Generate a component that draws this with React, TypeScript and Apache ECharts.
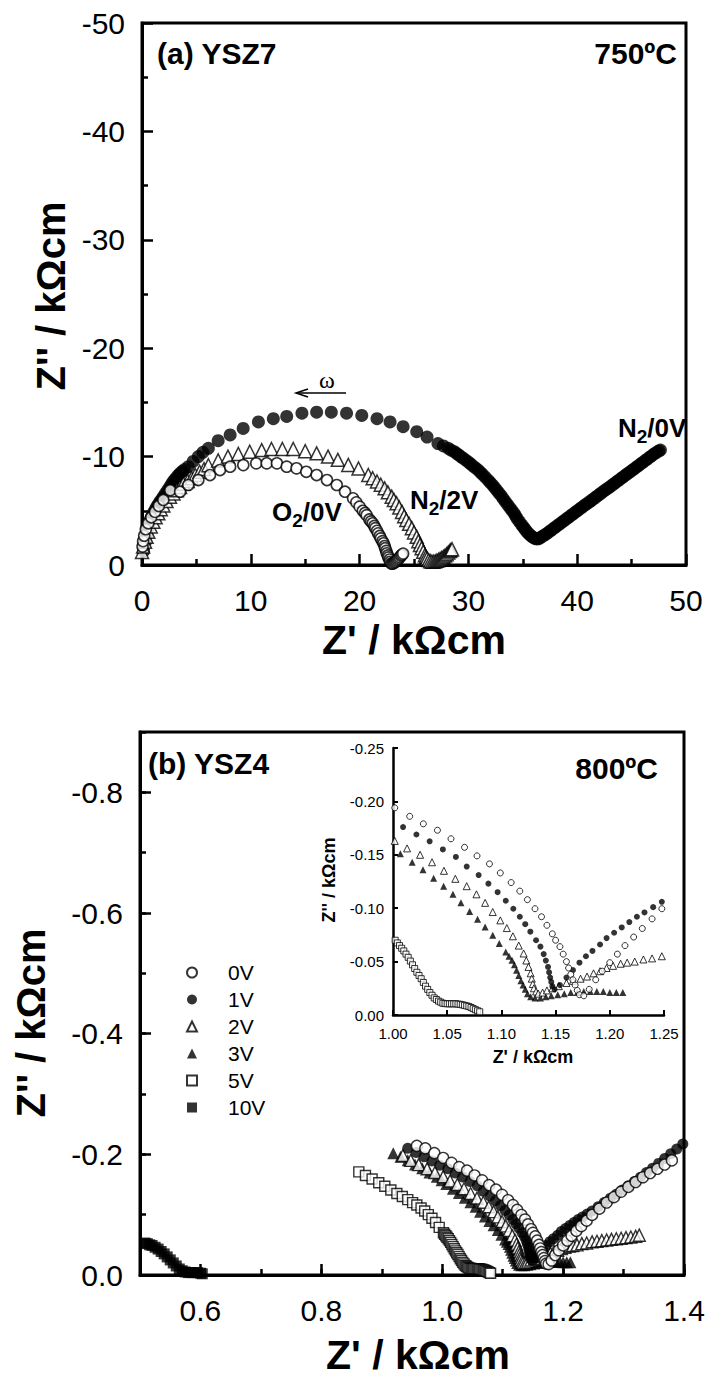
import React, { useEffect, useRef } from "react";
import * as echarts from "echarts";

// ---------- Panel (a): YSZ7 at 750 ºC  —  [Z' (kΩcm), Z'' (kΩcm)] ----------
const aN2_0V: number[][] = [
  [0.15, -1.3], [0.3, -2.1], [0.45, -2.8], [0.6, -3.5], [0.74, -4.15], [0.9, -4.5], [1.05, -4.8],
  [1.2, -5.1], [1.35, -5.38], [1.5, -5.6], [1.65, -5.85], [1.8, -6.05], [1.96, -6.3], [2.15, -6.6],
  [2.35, -6.9], [2.55, -7.2], [2.73, -7.5], [2.9, -7.75], [3.1, -8.0], [3.3, -8.25], [3.5, -8.46],
  [3.7, -8.63], [3.9, -8.8], [4.26, -9.07], [4.7, -9.55], [5.18, -10.0], [5.6, -10.4], [6.1, -10.76],
  [7.0, -11.47], [8.1, -12.0], [9.3, -12.6], [10.7, -13.2], [12.07, -13.5], [13.3, -13.7], [14.7, -14.0],
  [16.05, -14.1], [17.4, -14.1], [18.8, -14.0], [20.2, -13.8], [21.6, -13.5], [22.8, -13.2], [24.0, -12.76],
  [25.25, -12.3], [26.2, -11.8], [27.2, -11.2], [27.7, -10.98], [28.15, -10.76], [28.4, -10.6],
  [28.7, -10.45], [28.9, -10.3], [29.1, -10.15], [29.3, -10.0], [29.5, -9.85], [29.75, -9.68],
  [30.0, -9.5], [30.2, -9.32], [30.4, -9.15], [30.65, -8.95], [30.9, -8.76], [31.1, -8.55],
  [31.3, -8.35], [31.55, -8.1], [31.8, -7.84], [32.0, -7.62], [32.2, -7.4], [32.4, -7.15],
  [32.6, -6.9], [32.8, -6.65], [33.0, -6.4], [33.2, -6.12], [33.4, -5.84], [33.6, -5.57],
  [33.8, -5.3], [34.0, -5.03], [34.2, -4.77], [34.35, -4.5], [34.5, -4.25], [34.7, -3.97],
  [34.9, -3.7], [35.05, -3.5], [35.2, -3.3], [35.35, -3.1], [35.5, -2.92], [35.65, -2.78],
  [35.8, -2.65], [35.95, -2.55], [36.1, -2.46], [36.25, -2.42], [36.4, -2.42], [36.55, -2.48],
  [36.7, -2.58], [36.9, -2.7], [37.1, -2.83], [37.3, -2.97], [37.5, -3.12], [37.7, -3.27],
  [37.9, -3.42], [38.1, -3.57], [38.3, -3.72], [38.5, -3.87], [38.7, -4.02], [38.9, -4.17],
  [39.1, -4.32], [39.3, -4.47], [39.5, -4.62], [39.7, -4.77], [39.9, -4.92], [40.1, -5.07],
  [40.3, -5.22], [40.5, -5.37], [40.7, -5.52], [40.9, -5.66], [41.1, -5.8], [41.3, -5.95],
  [41.5, -6.1], [41.7, -6.25], [41.9, -6.4], [42.1, -6.55], [42.3, -6.7], [42.5, -6.85],
  [42.7, -6.99], [42.9, -7.13], [43.1, -7.28], [43.3, -7.43], [43.5, -7.58], [43.7, -7.73],
  [43.9, -7.88], [44.1, -8.03], [44.3, -8.18], [44.5, -8.33], [44.7, -8.48], [44.9, -8.62],
  [45.1, -8.77], [45.3, -8.92], [45.5, -9.07], [45.7, -9.22], [45.9, -9.37], [46.1, -9.52],
  [46.3, -9.67], [46.5, -9.82], [46.7, -9.97], [46.9, -10.12], [47.1, -10.27], [47.3, -10.4],
  [47.5, -10.52], [47.65, -10.6],
];
const aN2_2V: number[][] = [
  [0.0, -1.2], [0.1, -1.7], [0.28, -2.15], [0.42, -2.6], [0.58, -3.07], [0.8, -3.55], [1.04, -4.0],
  [1.25, -4.4], [1.5, -4.77], [1.72, -5.15], [1.96, -5.5], [2.25, -5.9], [2.57, -6.3], [2.9, -6.6],
  [3.2, -6.9], [3.5, -7.2], [3.8, -7.5], [4.2, -7.75], [4.56, -8.0], [4.9, -8.3], [5.3, -8.6],
  [5.7, -8.85], [6.1, -9.2], [7.0, -9.65], [7.9, -10.0], [8.85, -10.25], [9.9, -10.45], [11.0, -10.6],
  [11.9, -10.7], [12.9, -10.7], [13.9, -10.7], [15.0, -10.5], [16.05, -10.3], [17.1, -10.0], [18.0, -9.7],
  [18.96, -9.23], [19.9, -8.9], [20.8, -8.3], [21.2, -8.0], [21.6, -7.7], [21.95, -7.4], [22.3, -7.07],
  [22.6, -6.7], [22.95, -6.3], [23.15, -6.0], [23.4, -5.7], [23.65, -5.3], [23.9, -4.9], [24.1, -4.5],
  [24.3, -4.15], [24.55, -3.8], [24.8, -3.4], [25.0, -3.0], [25.25, -2.6], [25.4, -2.2], [25.55, -1.85],
  [25.7, -1.55], [25.85, -1.23], [26.0, -0.9], [26.1, -0.75], [26.2, -0.6], [26.35, -0.45], [26.5, -0.35],
  [26.65, -0.3], [26.8, -0.3], [26.95, -0.34], [27.1, -0.4], [27.25, -0.47], [27.4, -0.55], [27.55, -0.65],
  [27.7, -0.75], [27.85, -0.87], [28.0, -1.0], [28.15, -1.15], [28.3, -1.3], [28.4, -1.38], [28.5, -1.45],
];
const aO2_0V: number[][] = [
  [0.05, -1.7], [0.1, -2.2], [0.2, -2.7], [0.35, -3.3], [0.58, -3.85], [0.85, -4.4], [1.2, -4.9],
  [1.55, -5.45], [1.96, -6.0], [2.6, -6.9], [3.5, -6.76], [4.26, -7.38], [5.18, -7.84], [6.25, -8.3],
  [7.17, -8.76], [8.1, -9.07], [9.31, -9.22], [10.5, -9.38], [11.46, -9.38], [12.4, -9.38], [13.3, -9.07],
  [14.2, -8.92], [15.1, -8.6], [16.05, -8.3], [17.0, -7.84], [17.9, -7.38], [18.66, -6.76], [19.4, -6.15],
  [19.7, -5.78], [20.0, -5.38], [20.3, -5.0], [20.5, -4.8], [20.65, -4.6], [20.9, -4.2], [21.05, -4.02],
  [21.2, -3.85], [21.35, -3.6], [21.45, -3.4], [21.6, -3.15], [21.7, -2.92], [21.85, -2.68], [21.95, -2.45],
  [22.1, -2.2], [22.2, -2.0], [22.3, -1.75], [22.35, -1.55], [22.45, -1.3], [22.5, -1.08], [22.6, -0.88],
  [22.65, -0.7], [22.75, -0.5], [22.8, -0.3], [22.9, -0.15], [23.0, -0.12], [23.1, -0.15], [23.2, -0.22],
  [23.3, -0.3], [23.4, -0.4], [23.5, -0.5], [23.6, -0.6], [23.7, -0.72], [23.8, -0.85], [23.9, -0.95],
  [24.0, -1.05],
];

// ---------- Panel (b): YSZ4 at 800 ºC  —  [Z' (kΩcm), Z'' (kΩcm)] ----------
const b0V: number[][] = [
  [0.958, -0.214], [0.972, -0.21], [0.987, -0.202], [1.0016, -0.194], [1.0154, -0.186], [1.028, -0.179],
  [1.041, -0.173], [1.0535, -0.165], [1.066, -0.157], [1.0775, -0.149], [1.089, -0.1415], [1.099, -0.133],
  [1.109, -0.124], [1.117, -0.116], [1.124, -0.108], [1.131, -0.0995], [1.137, -0.092], [1.142, -0.084],
  [1.147, -0.076], [1.15, -0.07], [1.154, -0.064], [1.157, -0.057], [1.16, -0.05], [1.162, -0.044],
  [1.164, -0.038], [1.166, -0.033], [1.168, -0.028], [1.17, -0.023], [1.172, -0.019], [1.176, -0.018],
  [1.181, -0.024], [1.187, -0.033], [1.193, -0.041], [1.2, -0.049], [1.207, -0.057], [1.214, -0.065],
  [1.222, -0.073], [1.23, -0.081], [1.239, -0.09], [1.248, -0.0995], [1.26, -0.11], [1.272, -0.12],
  [1.284, -0.129], [1.296, -0.138], [1.308, -0.146], [1.32, -0.154], [1.332, -0.162], [1.344, -0.169],
  [1.356, -0.176], [1.368, -0.183], [1.38, -0.19],
];
const b1V: number[][] = [
  [0.943, -0.21], [0.957, -0.203], [0.97, -0.196], [0.983, -0.189], [0.996, -0.182], [1.0093, -0.176],
  [1.0216, -0.169], [1.0338, -0.1626], [1.046, -0.155], [1.058, -0.148], [1.068, -0.139], [1.079, -0.131],
  [1.088, -0.123], [1.0965, -0.115], [1.104, -0.107], [1.111, -0.0995], [1.117, -0.092], [1.122, -0.085],
  [1.1267, -0.078], [1.132, -0.07], [1.136, -0.064], [1.139, -0.057], [1.141, -0.051], [1.143, -0.045],
  [1.144, -0.04], [1.145, -0.035], [1.146, -0.031], [1.147, -0.027], [1.149, -0.024], [1.154, -0.028],
  [1.16, -0.035], [1.166, -0.042], [1.172, -0.049], [1.178, -0.055], [1.184, -0.06], [1.191, -0.066],
  [1.197, -0.072], [1.204, -0.077], [1.211, -0.082], [1.218, -0.087], [1.225, -0.092], [1.232, -0.096],
  [1.24, -0.101], [1.248, -0.106], [1.258, -0.113], [1.268, -0.12], [1.278, -0.127], [1.288, -0.134],
  [1.298, -0.141], [1.308, -0.148], [1.318, -0.155], [1.328, -0.162], [1.338, -0.17], [1.348, -0.177],
  [1.358, -0.185], [1.368, -0.193], [1.378, -0.201], [1.388, -0.209], [1.398, -0.217],
];
const b2V: number[][] = [
  [0.935, -0.198], [0.948, -0.19], [0.961, -0.183], [0.975, -0.176], [0.988, -0.17], [1.0016, -0.163],
  [1.013, -0.156], [1.025, -0.15], [1.036, -0.143], [1.047, -0.135], [1.0575, -0.1275], [1.068, -0.1206],
  [1.077, -0.113], [1.085, -0.105], [1.092, -0.0964], [1.099, -0.0886], [1.105, -0.0814], [1.1106, -0.0737],
  [1.116, -0.065], [1.1205, -0.0576], [1.123, -0.051], [1.125, -0.045], [1.127, -0.039], [1.128, -0.034],
  [1.129, -0.029], [1.13, -0.025], [1.132, -0.022], [1.134, -0.02], [1.138, -0.021], [1.142, -0.023],
  [1.147, -0.025], [1.153, -0.027], [1.16, -0.03], [1.166, -0.032], [1.173, -0.034], [1.179, -0.036],
  [1.185, -0.039], [1.191, -0.041], [1.197, -0.044], [1.203, -0.046], [1.21, -0.048], [1.216, -0.049],
  [1.223, -0.05], [1.231, -0.052], [1.239, -0.053], [1.248, -0.055], [1.256, -0.056], [1.264, -0.057],
  [1.272, -0.058], [1.28, -0.059], [1.288, -0.06], [1.296, -0.061], [1.304, -0.062], [1.312, -0.063],
  [1.32, -0.064], [1.326, -0.066],
];
const b3V: number[][] = [
  [0.919, -0.202], [0.931, -0.196], [0.943, -0.19], [0.955, -0.183], [0.967, -0.177], [0.979, -0.17],
  [0.991, -0.163], [0.999, -0.157], [1.0068, -0.151], [1.0177, -0.143], [1.0277, -0.136], [1.0375, -0.128],
  [1.0467, -0.1206], [1.0553, -0.113], [1.0627, -0.105], [1.0707, -0.097], [1.078, -0.0896], [1.085, -0.0824],
  [1.092, -0.0746], [1.098, -0.0669], [1.104, -0.059], [1.107, -0.055], [1.1098, -0.0513], [1.112, -0.047],
  [1.114, -0.042], [1.116, -0.037], [1.118, -0.032], [1.12, -0.028], [1.122, -0.024], [1.124, -0.02],
  [1.127, -0.017], [1.131, -0.016], [1.136, -0.016], [1.141, -0.017], [1.146, -0.018], [1.152, -0.019],
  [1.158, -0.02], [1.164, -0.021], [1.17, -0.021], [1.176, -0.022], [1.182, -0.022], [1.188, -0.022],
  [1.194, -0.022], [1.2, -0.021], [1.206, -0.021], [1.212, -0.021],
];
const b5V: number[][] = [
  [0.862, -0.171], [0.873, -0.165], [0.884, -0.159], [0.895, -0.153], [0.905, -0.147], [0.915, -0.141],
  [0.925, -0.135], [0.934, -0.13], [0.943, -0.125], [0.951, -0.12], [0.958, -0.116], [0.965, -0.111],
  [0.971, -0.106], [0.977, -0.1], [0.983, -0.094], [0.989, -0.087], [0.995, -0.079], [1.002, -0.07],
  [1.004, -0.0675], [1.006, -0.065], [1.008, -0.0625], [1.01, -0.06], [1.012, -0.057], [1.014, -0.054],
  [1.016, -0.0505], [1.018, -0.047], [1.02, -0.0435], [1.022, -0.04], [1.024, -0.037], [1.026, -0.034],
  [1.028, -0.0305], [1.03, -0.027], [1.032, -0.024], [1.034, -0.021], [1.036, -0.0185], [1.038, -0.016],
  [1.04, -0.0145], [1.042, -0.013], [1.044, -0.012], [1.046, -0.011], [1.048, -0.0107], [1.05, -0.0105],
  [1.052, -0.0105], [1.054, -0.0105], [1.056, -0.0105], [1.058, -0.0105], [1.06, -0.0102], [1.062, -0.01],
  [1.064, -0.0095], [1.066, -0.009], [1.068, -0.0085], [1.07, -0.008], [1.072, -0.007], [1.074, -0.006],
  [1.076, -0.005], [1.078, -0.004], [1.08, -0.003],
];
const b10V: number[][] = [
  [0.508, -0.053], [0.512, -0.052], [0.516, -0.05], [0.52, -0.049], [0.525, -0.046], [0.53, -0.043],
  [0.535, -0.039], [0.54, -0.035], [0.545, -0.03], [0.55, -0.025], [0.555, -0.02], [0.56, -0.015],
  [0.565, -0.01], [0.57, -0.007], [0.575, -0.005], [0.58, -0.004], [0.585, -0.004], [0.59, -0.004],
  [0.595, -0.004], [0.6, -0.003], [0.603, -0.002],
];

const bLegendNames = ["0V", "1V", "2V", "3V", "5V", "10V"];

const FONT = "'Liberation Sans', Arial, Helvetica, sans-serif";
const SERIF = "'Liberation Serif', 'Times New Roman', serif";
const K = "#000";

function mainAxis(extra: any) {
  return {
    type: "value",
    axisLine: { show: true, onZero: false, lineStyle: { color: K, width: 3 } },
    axisTick: { show: true, inside: true, length: 11, lineStyle: { color: K, width: 2.5 } },
    axisLabel: { color: K, fontSize: 30, fontFamily: FONT },
    splitLine: { show: false },
    minorSplitLine: { show: false },
    ...extra,
  };
}
function minorAxis(extra: any) {
  return {
    type: "value",
    axisLine: { show: false, onZero: false },
    axisTick: { show: true, inside: true, length: 6, lineStyle: { color: K, width: 2.5 } },
    axisLabel: { show: false },
    splitLine: { show: false },
    ...extra,
  };
}
function insetAxis(extra: any) {
  return {
    type: "value",
    axisLine: { show: true, onZero: false, lineStyle: { color: K, width: 2.5 } },
    axisTick: { show: true, inside: true, length: 5, lineStyle: { color: K, width: 2 } },
    axisLabel: { color: K, fontSize: 15, fontFamily: FONT, formatter: (v: number) => v.toFixed(2) },
    splitLine: { show: false },
    ...extra,
  };
}

const openStyle = (w: number) => ({ color: "#fff", borderColor: K, borderWidth: w });
const fillStyle = { color: K, borderColor: K, borderWidth: 0 };

function subText(main1: string, sub: string, main2: string) {
  return `{m|${main1}}{s|${sub}}{m|${main2}}`;
}
const subRich = {
  m: { fontSize: 26, fontWeight: "bold", fontFamily: FONT, fill: K, lineHeight: 36, verticalAlign: "middle" },
  s: { fontSize: 19, fontWeight: "bold", fontFamily: FONT, fill: K, lineHeight: 18, verticalAlign: "bottom" },
};

function txt(text: string, x: number, y: number, size: number, opts: any = {}) {
  return {
    type: "text",
    x,
    y,
    rotation: opts.rotation || 0,
    style: {
      text,
      fontSize: size,
      fontWeight: opts.weight || "bold",
      fontFamily: opts.family || FONT,
      fill: K,
      align: opts.align || "center",
      verticalAlign: "middle",
      rich: opts.rich,
    },
  };
}

export default function App() {
  const ref = useRef<HTMLDivElement>(null);
  useEffect(() => {
    if (!ref.current) return;
    const chart = echarts.init(ref.current, undefined, { renderer: "svg" });

    const bSeries = (xi: number, yi: number, inset: boolean) => {
      const c = inset ? 6 : 11;
      const t = inset ? 7 : 12;
      const s = inset ? 6 : 10;
      const bw = inset ? 1 : 1.4;
      const base = { type: "scatter", xAxisIndex: xi, yAxisIndex: yi, clip: true, silent: true };
      return [
        { ...base, name: "10V", data: b10V, symbol: "rect", symbolSize: inset ? s : 11, itemStyle: fillStyle },
        { ...base, name: "5V", data: b5V, symbol: "rect", symbolSize: s, itemStyle: openStyle(bw) },
        { ...base, name: "3V", data: b3V, symbol: "triangle", symbolSize: t, itemStyle: fillStyle },
        { ...base, name: "2V", data: b2V, symbol: "triangle", symbolSize: t, itemStyle: openStyle(bw) },
        { ...base, name: "1V", data: b1V, symbol: "circle", symbolSize: c, itemStyle: fillStyle },
        { ...base, name: "0V", data: b0V, symbol: "circle", symbolSize: c, itemStyle: openStyle(bw) },
      ];
    };

    const option: any = {
      animation: false,
      backgroundColor: "#fff",
      grid: [
        { left: 142, top: 23, width: 544, height: 542, show: true, borderColor: K, borderWidth: 3, backgroundColor: "transparent", outerBoundsMode: "none" },
        { left: 140, top: 732, width: 544, height: 543, show: true, borderColor: K, borderWidth: 3, backgroundColor: "transparent", outerBoundsMode: "none" },
        { left: 393, top: 748, width: 271, height: 267, show: false, outerBoundsMode: "none" },
      ],
      xAxis: [
        mainAxis({
          gridIndex: 0, min: 0, max: 50, interval: 10, position: "bottom",
          minorTick: { show: true, splitNumber: 2, length: 6, lineStyle: { color: K, width: 2.5 } },
          axisLabel: { color: K, fontSize: 30, fontFamily: FONT, margin: 20 },
        }),
        mainAxis({
          gridIndex: 1, min: 0.5, max: 1.4, splitNumber: 5, position: "bottom",
          axisLabel: { color: K, fontSize: 30, fontFamily: FONT, margin: 20, showMinLabel: false, showMaxLabel: true, formatter: (v: number) => v.toFixed(1) },
        }),
        minorAxis({ gridIndex: 1, min: 0.5, max: 1.4, interval: 0.1, position: "bottom" }),
        insetAxis({
          gridIndex: 2, min: 1.0, max: 1.25, interval: 0.05, position: "bottom",
          axisLabel: { color: K, fontSize: 15, fontFamily: FONT, margin: 11, formatter: (v: number) => v.toFixed(2) },
        }),
      ],
      yAxis: [
        mainAxis({
          gridIndex: 0, min: -50, max: 0, interval: 10, inverse: true, position: "left",
          minorTick: { show: true, splitNumber: 2, length: 6, lineStyle: { color: K, width: 2.5 } },
          axisLabel: { color: K, fontSize: 30, fontFamily: FONT, margin: 17 },
        }),
        mainAxis({
          gridIndex: 1, min: -0.9, max: 0, splitNumber: 5, inverse: true, position: "left",
          axisLabel: { color: K, fontSize: 30, fontFamily: FONT, margin: 17, showMinLabel: false, showMaxLabel: true, formatter: (v: number) => v.toFixed(1) },
        }),
        minorAxis({ gridIndex: 1, min: -0.9, max: 0, interval: 0.1, inverse: true, position: "left", offset: 0 }),
        insetAxis({
          gridIndex: 2, min: -0.25, max: 0, interval: 0.05, inverse: true, position: "left",
          axisLabel: { color: K, fontSize: 15, fontFamily: FONT, margin: 9, formatter: (v: number) => v.toFixed(2) },
        }),
      ],
      legend: {
        show: true,
        orient: "vertical",
        left: 186,
        top: 962,
        padding: 0,
        itemWidth: 10,
        itemHeight: 10,
        itemGap: 6,
        selectedMode: false,
        data: bLegendNames,
        formatter: (n: string) => `{g|}{t|${n}}`,
        textStyle: {
          color: K,
          rich: {
            g: { width: 26 },
            t: { fontSize: 21, fontFamily: FONT, color: K, lineHeight: 21 },
          },
        },
      },
      series: [
        { type: "scatter", name: "N2/0V", xAxisIndex: 0, yAxisIndex: 0, data: aN2_0V, symbol: "circle", symbolSize: 13, itemStyle: fillStyle, clip: true, silent: true },
        { type: "scatter", name: "N2/2V", xAxisIndex: 0, yAxisIndex: 0, data: aN2_2V, symbol: "triangle", symbolSize: 13, itemStyle: openStyle(1.5), clip: true, silent: true },
        { type: "scatter", name: "O2/0V", xAxisIndex: 0, yAxisIndex: 0, data: aO2_0V, symbol: "circle", symbolSize: 11, itemStyle: openStyle(1.6), clip: true, silent: true },
        ...bSeries(1, 1, false),
        ...bSeries(3, 3, true),
      ],
      graphic: {
        elements: [
          txt("(a) YSZ7", 157, 53, 30, { align: "left" }),
          txt("750ºC", 677, 53, 30, { align: "right" }),
          txt("(b) YSZ4", 148, 763, 30, { align: "left" }),
          txt("800ºC", 658, 768, 30, { align: "right" }),
          txt("Z' / kΩcm", 414, 640, 41),
          txt("Z'' / kΩcm", 51, 296, 40, { rotation: Math.PI / 2 }),
          txt("Z' / kΩcm", 418, 1355, 41),
          txt("Z'' / kΩcm", 31, 1023, 40, { rotation: Math.PI / 2 }),
          txt("Z' / kΩcm", 533, 1057, 18),
          txt("Z'' / kΩcm", 329, 880, 18, { rotation: Math.PI / 2 }),
          txt(subText("O", "2", "/0V"), 272, 512, 26, { align: "left", rich: subRich }),
          txt(subText("N", "2", "/2V"), 410, 500, 26, { align: "left", rich: subRich }),
          txt(subText("N", "2", "/0V"), 618, 428, 26, { align: "left", rich: subRich }),
          txt("ω", 327, 380, 24, { weight: "normal", family: SERIF }),
          { type: "line", shape: { x1: 297, y1: 393, x2: 346, y2: 393 }, style: { stroke: K, lineWidth: 1.5 } },
          { type: "polyline", shape: { points: [[308, 389], [296, 393], [308, 397]] }, style: { stroke: K, lineWidth: 1.5, fill: null } },
        ],
      },
    };
    chart.setOption(option);
    return () => chart.dispose();
  }, []);
  return <div ref={ref} style={{ position: "absolute", left: 0, top: 0, width: 709, height: 1380 }} />;
}
